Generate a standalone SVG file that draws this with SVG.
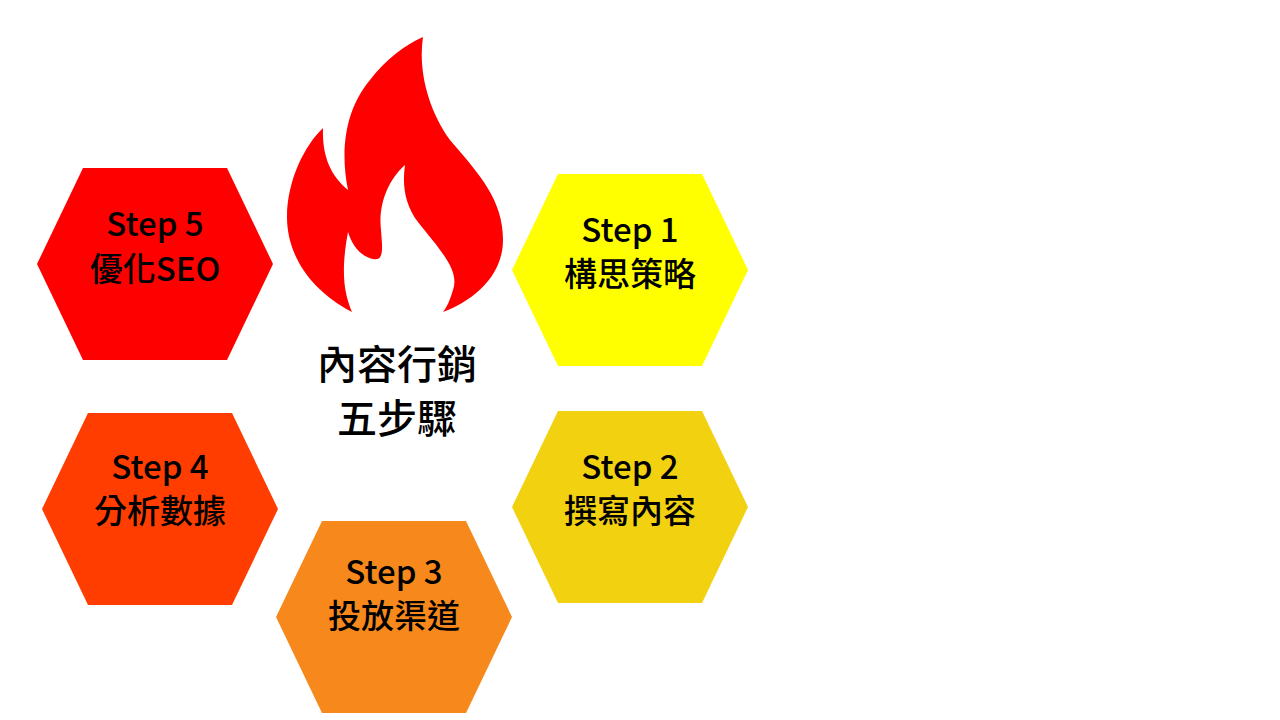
<svg xmlns="http://www.w3.org/2000/svg" width="1280" height="720" viewBox="0 0 1280 720">
<style>
text{font-family:"Noto Sans CJK TC","Noto Sans CJK SC",sans-serif;font-weight:500;fill:#000;text-anchor:middle}
.s{font-size:33px}
.c{font-size:40px}
</style>
<defs><polygon id="hex" points="-118,0 -72,-96 72,-96 118,0 72,96 -72,96"/></defs>
<rect width="1280" height="720" fill="#fff"/>
<g id="flame">
<path fill="#FF0000" fill-rule="evenodd" d="M352,312 C310,290 287,255 287,217 C287,180 305,145 323,128 C322,155 330,175 348,190 C340,150 345,110 370,80 C385,60 405,45 423,37 C418,70 428,110 450,140 C480,175 503,200 503,240 C503,275 475,300 443,312 Z
M352,312 C345,295 340,275 348,232 C352,245 360,256 373,259 C385,262 382,245 381,230 C378,205 388,180 405,165 C402,185 405,205 418,222 C440,250 460,270 453,290 C450,300 447,307 443,312 Z"/>
</g>
<g id="center-label">
<text class="c" x="397" y="379">內容行銷</text>
<text class="c" x="397" y="433">五步驟</text>
</g>
<g id="step5"><use href="#hex" x="155" y="264" fill="#FF0000"/>
<text class="s" x="155" y="236">Step 5</text><text class="s" x="155" y="281">優化SEO</text></g>
<g id="step1"><use href="#hex" x="630" y="270" fill="#FFFF00"/>
<text class="s" x="630" y="242">Step 1</text><text class="s" x="630" y="286">構思策略</text></g>
<g id="step2"><use href="#hex" x="630" y="507" fill="#F2D111"/>
<text class="s" x="630" y="479">Step 2</text><text class="s" x="630" y="523">撰寫內容</text></g>
<g id="step4"><use href="#hex" x="160" y="509" fill="#FF3D00"/>
<text class="s" x="160" y="479">Step 4</text><text class="s" x="160" y="523">分析數據</text></g>
<g id="step3"><use href="#hex" x="394" y="617" fill="#F7891C"/>
<text class="s" x="394" y="584">Step 3</text><text class="s" x="394" y="628">投放渠道</text></g>
<g id="connectors"/>
</svg>
